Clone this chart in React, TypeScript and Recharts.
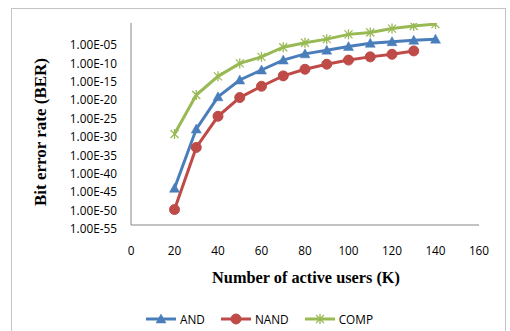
import React from 'react';
import { LineChart, Line, XAxis, YAxis } from 'recharts';

const users = [20, 30, 40, 50, 60, 70, 80, 90, 100, 110, 120, 130, 140];
const berAND = [1e-45, 1.3e-29, 8e-21, 3e-16, 1.6e-13, 8e-11, 4e-9, 4e-8, 4e-7, 3e-6, 8e-6, 2e-5, 4e-5];
const berNAND = [1.6e-51, 1.3e-34, 4e-26, 5e-21, 6e-18, 4e-15, 2.5e-13, 6e-12, 8e-11, 6e-10, 3e-9, 2.5e-8, null];
const berCOMP = [6e-31, 2.5e-20, 3e-15, 1e-11, 6e-10, 2.5e-7, 4e-6, 4e-5, 8e-4, 2.5e-3, 3e-2, 0.15, 0.5];
const xTicks = [0, 20, 40, 60, 80, 100, 120, 140, 160];
const yTicks = [1e-55, 1e-50, 1e-45, 1e-40, 1e-35, 1e-30, 1e-25, 1e-20, 1e-15, 1e-10, 1e-5];

const BLUE = '#4A7EBB';
const RED = '#BE4B48';
const GREEN = '#98B954';
const FONT = '"Open Sans", sans-serif';
const SERIF = '"Liberation Serif", "Times New Roman", serif';

const data = users.map((u, i) => ({ users: u, AND: berAND[i], NAND: berNAND[i], COMP: berCOMP[i] }));

const fmtSci = (v: number) => {
  const e = Math.round(Math.log10(v));
  return `1.00E${e < 0 ? '-' : '+'}${String(Math.abs(e)).padStart(2, '0')}`;
};

const Tri = ({ cx, cy, color }: any) => (
  <path d={`M${cx},${cy - 5} L${cx + 5},${cy + 4} L${cx - 5},${cy + 4} Z`} fill={color} stroke={color} strokeWidth={0.5} />
);
const Circ = ({ cx, cy, color }: any) => <circle cx={cx} cy={cy} r={5} fill={color} stroke={color} />;
const Star = ({ cx, cy, color }: any) => (
  <g stroke={color} strokeWidth={1.3}>
    <line x1={cx - 4} y1={cy - 4} x2={cx + 4} y2={cy + 4} />
    <line x1={cx - 4} y1={cy + 4} x2={cx + 4} y2={cy - 4} />
    <line x1={cx} y1={cy - 5} x2={cx} y2={cy + 5} />
  </g>
);

const mkDot = (Shape: any, color: string) => (p: any) => {
  if (p.cx == null || p.cy == null || p.value == null) return <g key={p.index} />;
  return <g key={p.index}><Shape cx={p.cx} cy={p.cy} color={color} /></g>;
};

const XTick = ({ x, y, payload }: any) => (
  <text x={x} y={y + 25} textAnchor="middle" dominantBaseline="central" fontFamily={FONT} fontSize={11.8} fill="#000">
    {payload.value}
  </text>
);
const YTick = ({ x, y, payload }: any) => (
  <text x={x - 14} y={y + 3} textAnchor="end" dominantBaseline="central" fontFamily={FONT} fontSize={11.8} fill="#000">
    {fmtSci(payload.value)}
  </text>
);

const legendItems = [
  { name: 'AND', color: BLUE, Shape: Tri },
  { name: 'NAND', color: RED, Shape: Circ },
  { name: 'COMP', color: GREEN, Shape: Star },
];

const LegendBox = () => (
  <div style={{ position: 'absolute', left: 0, top: 311, width: 510, display: 'flex', justifyContent: 'center', alignItems: 'center', paddingLeft: 9, boxSizing: 'border-box', fontFamily: FONT, fontSize: 11.8, color: '#000' }}>
    {legendItems.map((it, i) => (
      <div key={it.name} style={{ display: 'flex', alignItems: 'center', marginLeft: i === 0 ? 0 : 16 }}>
        <svg width={30} height={14}>
          <line x1={0} y1={7} x2={30} y2={7} stroke={it.color} strokeWidth={3} />
          <it.Shape cx={15} cy={7} color={it.color} />
        </svg>
        <span style={{ marginLeft: 4 }}>{it.name}</span>
      </div>
    ))}
  </div>
);

export default function App() {
  return (
    <div style={{ position: 'absolute', left: 0, top: 0, width: 510, height: 331, background: '#fff', overflow: 'hidden' }}>
      <div style={{ position: 'absolute', left: 11, top: 8, width: 495, height: 340, border: '1px solid #c4c4c4', boxSizing: 'border-box' }} />
      <LineChart width={510} height={331} data={data} margin={{ top: 23, right: 31, bottom: 76, left: 0 }} style={{ position: 'absolute', left: 0, top: 0 }}>
        <XAxis
          dataKey="users"
          type="number"
          domain={[0, 160]}
          ticks={xTicks}
          tickLine={false}
          tickSize={0}
          tickMargin={0}
          height={30}
          axisLine={{ stroke: '#868686' }}
          tick={<XTick />}
          interval={0}
        />
        <YAxis
          scale="log"
          type="number"
          domain={[1e-55, 1]}
          ticks={yTicks}
          allowDataOverflow
          tickLine={false}
          tickSize={0}
          tickMargin={0}
          width={131}
          axisLine={{ stroke: '#868686' }}
          tick={<YTick />}
          interval={0}
        />
        <Line dataKey="AND" stroke={BLUE} strokeWidth={3} dot={mkDot(Tri, BLUE)} isAnimationActive={false} />
        <Line dataKey="NAND" stroke={RED} strokeWidth={3} dot={mkDot(Circ, RED)} isAnimationActive={false} />
        <Line dataKey="COMP" stroke={GREEN} strokeWidth={3} dot={mkDot(Star, GREEN)} isAnimationActive={false} />
      </LineChart>
      <LegendBox />
      <div style={{ position: 'absolute', left: 0, width: 612, top: 268, lineHeight: '20px', textAlign: 'center', fontFamily: SERIF, fontWeight: 'bold', fontSize: 16.3, color: '#000', whiteSpace: 'nowrap' }}>
        Number of active users (K)
      </div>
      <div style={{ position: 'absolute', left: 41, top: 132, width: 0, height: 0 }}>
        <div style={{ position: 'absolute', transform: 'translate(-50%, -50%) rotate(-90deg)', lineHeight: '20px', fontFamily: SERIF, fontWeight: 'bold', fontSize: 17, color: '#000', whiteSpace: 'nowrap' }}>
          Bit error rate (BER)
        </div>
      </div>
    </div>
  );
}
